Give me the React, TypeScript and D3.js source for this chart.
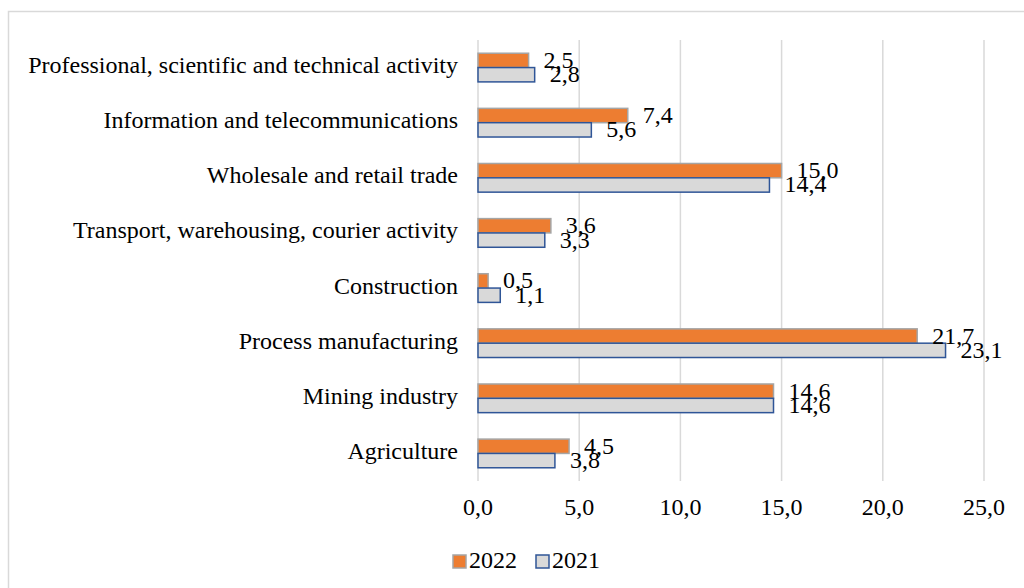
import React from "react";
import * as d3 from "d3";

const categories = [
  "Professional, scientific and technical activity",
  "Information and telecommunications",
  "Wholesale and retail trade",
  "Transport, warehousing, courier activity",
  "Construction",
  "Process manufacturing",
  "Mining industry",
  "Agriculture",
];
const values2022 = [2.5, 7.4, 15.0, 3.6, 0.5, 21.7, 14.6, 4.5];
const values2021 = [2.8, 5.6, 14.4, 3.3, 1.1, 23.1, 14.6, 3.8];
const seriesNames = ["2022", "2021"];
const xTicks = [0, 5, 10, 15, 20, 25];

const W = 1024;
const H = 588;
const FONT = '"Liberation Serif", "Times New Roman", serif';
const FS = 24;
const fmt = (v: number) => v.toFixed(1).replace(".", ",");

export default function App() {
  const x = d3.scaleLinear().domain([0, 25]).range([478, 984]);
  const y = d3.scaleBand<string>().domain(categories).range([40, 481]).paddingInner(0.48).paddingOuter(0.24);
  const inner = d3.scaleBand<string>().domain(seriesNames).range([0, y.bandwidth()]);
  const series = [
    { name: "2022", values: values2022, fill: "#ED7D31", stroke: "#A5A5A5" },
    { name: "2021", values: values2021, fill: "#D9D9D9", stroke: "#2F5597" },
  ];
  const ts = { fontFamily: FONT };
  return (
    <svg width={W} height={H} style={{ position: "absolute", left: 0, top: 0, background: "#fff" }}>
      <rect x={8.5} y={11.5} width={1040} height={620} fill="none" stroke="#D9D9D9" strokeWidth={1.5} />
      {xTicks.map((t) => (
        <line key={t} x1={x(t)} x2={x(t)} y1={40} y2={481} stroke="#D9D9D9" strokeWidth={1.5} />
      ))}
      {series.map((s) =>
        s.values.map((v, i) => {
          const cy = (y(categories[i]) as number) + (inner(s.name) as number);
          const h = inner.bandwidth();
          return (
            <rect key={s.name + i} x={x(0)} y={cy} width={x(v) - x(0)} height={h} fill={s.fill} stroke={s.stroke} strokeWidth={1.5} />
          );
        })
      )}
      {series.map((s) =>
        s.values.map((v, i) => {
          const cy = (y(categories[i]) as number) + (inner(s.name) as number) + inner.bandwidth() / 2;
          return (
            <text key={"l" + s.name + i} x={x(v) + 15} y={cy + 2} dominantBaseline="middle" fontSize={FS} fill="#000" style={ts}>
              {fmt(v)}
            </text>
          );
        })
      )}
      {categories.map((c) => (
        <text key={c} x={458} y={(y(c) as number) + y.bandwidth() / 2} textAnchor="end" dominantBaseline="middle" fontSize={FS} fill="#000" style={ts}>
          {c}
        </text>
      ))}
      {xTicks.map((t) => (
        <text key={"t" + t} x={x(t)} y={509} textAnchor="middle" dominantBaseline="middle" fontSize={FS} fill="#000" style={ts}>
          {fmt(t)}
        </text>
      ))}
      <g>
        <rect x={453} y={555} width={13} height={13} fill="#ED7D31" stroke="#A5A5A5" strokeWidth={1.5} />
        <text x={469} y={562} dominantBaseline="middle" fontSize={FS} fill="#000" style={ts}>{seriesNames[0]}</text>
        <rect x={536} y={555} width={13} height={13} fill="#D9D9D9" stroke="#2F5597" strokeWidth={1.5} />
        <text x={552} y={562} dominantBaseline="middle" fontSize={FS} fill="#000" style={ts}>{seriesNames[1]}</text>
      </g>
    </svg>
  );
}
